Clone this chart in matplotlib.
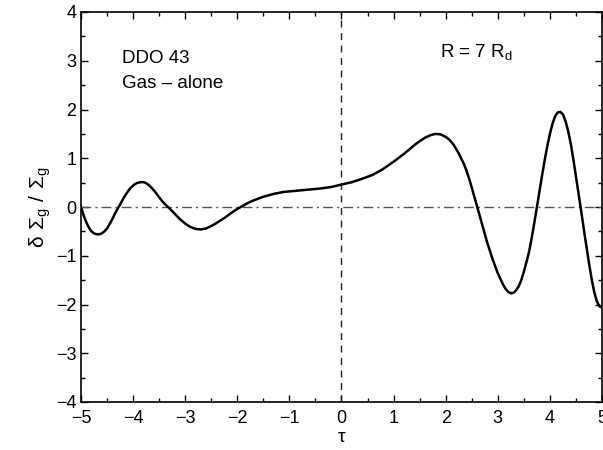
import numpy as np
import matplotlib.pyplot as plt
from matplotlib.ticker import MultipleLocator

plt.rcParams['font.family'] = ['Liberation Sans', 'DejaVu Sans']
plt.rcParams['mathtext.fontset'] = 'custom'
plt.rcParams['mathtext.rm'] = 'Liberation Sans'

# curve (tau, delta Sigma_g / Sigma_g)
tau = [-5.0, -4.95, -4.9, -4.85, -4.8, -4.75, -4.7, -4.65, -4.6, -4.55, -4.5,
       -4.45, -4.4, -4.35, -4.3, -4.25, -4.2, -4.15, -4.1, -4.05, -4.0, -3.95,
       -3.9, -3.85, -3.8, -3.75, -3.7, -3.65, -3.6, -3.55, -3.5, -3.45, -3.4,
       -3.35, -3.3, -3.2, -3.1, -3.0, -2.9, -2.8, -2.7, -2.6, -2.5, -2.4,
       -2.3, -2.2, -2.1, -2.0, -1.9, -1.8, -1.7, -1.6, -1.5, -1.4, -1.3, -1.2,
       -1.1, -1.0, -0.8, -0.6, -0.4, -0.2, 0.0, 0.2, 0.4, 0.6, 0.8, 1.0, 1.2,
       1.4, 1.5, 1.6, 1.7, 1.8, 1.9, 2.0, 2.08, 2.15, 2.2, 2.25, 2.3, 2.35,
       2.4, 2.45, 2.5, 2.55, 2.6, 2.7, 2.8, 2.9, 3.0, 3.1, 3.15, 3.2, 3.25,
       3.3, 3.35, 3.4, 3.45, 3.5, 3.55, 3.6, 3.65, 3.7, 3.75, 3.8, 3.85, 3.9,
       3.95, 4.0, 4.05, 4.1, 4.15, 4.2, 4.25, 4.3, 4.35, 4.4, 4.45, 4.5, 4.55,
       4.6, 4.65, 4.7, 4.75, 4.8, 4.85, 4.9, 4.95, 5.0]
dsig = [0.0, -0.17, -0.31, -0.42, -0.50, -0.54, -0.56, -0.56, -0.54, -0.50, -0.44,
        -0.35, -0.25, -0.14, -0.04, 0.05, 0.15, 0.24, 0.32, 0.39, 0.44, 0.48,
        0.50, 0.51, 0.51, 0.49, 0.45, 0.40, 0.34, 0.27, 0.20, 0.13, 0.07,
        0.02, -0.03, -0.14, -0.25, -0.34, -0.41, -0.45, -0.46, -0.44, -0.39, -0.33,
        -0.26, -0.19, -0.11, -0.04, 0.02, 0.08, 0.13, 0.17, 0.21, 0.24, 0.27, 0.29,
        0.31, 0.32, 0.34, 0.36, 0.38, 0.41, 0.46, 0.51, 0.58, 0.66, 0.78, 0.93, 1.09,
        1.27, 1.35, 1.42, 1.47, 1.50, 1.49, 1.44, 1.37, 1.28, 1.19, 1.10, 0.99, 0.88,
        0.74, 0.58, 0.40, 0.21, 0.02, -0.36, -0.74, -1.07, -1.36, -1.59, -1.68, -1.74, -1.77,
        -1.76, -1.71, -1.63, -1.50, -1.33, -1.13, -0.92, -0.64, -0.33, 0.0, 0.33, 0.65, 0.96,
        1.25, 1.50, 1.71, 1.86, 1.94, 1.95, 1.90, 1.76, 1.56, 1.30, 0.98, 0.63, 0.27,
        -0.08, -0.45, -0.80, -1.15, -1.47, -1.74, -1.93, -2.04, -2.06]

fig = plt.figure(figsize=(6.03, 4.5), dpi=100)
ax = fig.add_axes([81 / 603, 48 / 450, 521 / 603, 390 / 450])

ax.axhline(0, color='#555555', lw=1.0, ls='-.', dashes=(7, 3, 1.5, 3))
ax.axvline(0, color='#222222', lw=1.0, ls='--', dashes=(5, 4))
ax.plot(tau, dsig, color='black', lw=1.8)

ax.set_xlim(-5, 5)
ax.set_ylim(-4, 4)
ax.xaxis.set_major_locator(MultipleLocator(1))
ax.yaxis.set_major_locator(MultipleLocator(1))
ax.xaxis.set_minor_locator(MultipleLocator(0.5))
ax.yaxis.set_minor_locator(MultipleLocator(0.5))
ax.tick_params(which='both', direction='in', top=True, right=True, labelsize=13, width=1)
ax.tick_params(which='major', length=5)
ax.tick_params(which='minor', length=3)
ax.tick_params(axis='x', pad=6)
for s in ax.spines.values():
    s.set_linewidth(1.2)

ax.set_xlabel(r'$\mathregular{\tau}$', fontsize=14, labelpad=1)
ax.set_ylabel(r'$\mathregular{\delta\ \Sigma_g\ /\ \Sigma_g}$', fontsize=15, labelpad=2)

ax.text(-4.21, 2.95, 'DDO 43', fontsize=13.5)
ax.text(-4.21, 2.44, 'Gas \u2013 alone', fontsize=13.5)
ax.text(1.89, 3.06, r'R = 7 R$_\mathregular{d}$', fontsize=13.5)

fig.savefig('out.png', dpi=100)
